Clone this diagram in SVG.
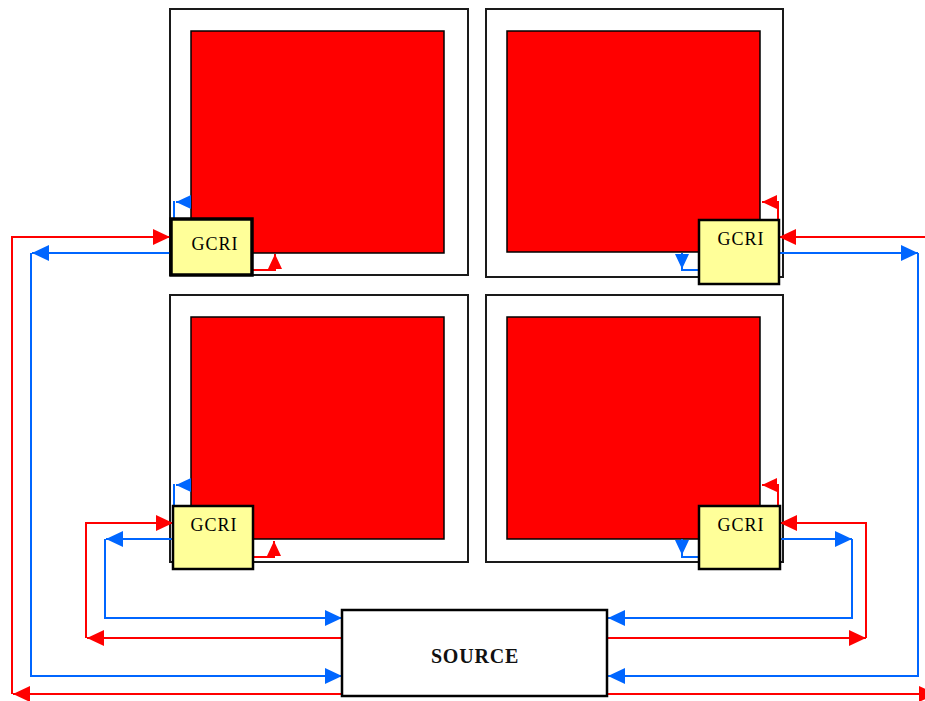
<svg xmlns="http://www.w3.org/2000/svg" width="925" height="701" viewBox="0 0 925 701">
<style>
.frame{fill:#fff;stroke:#1a1a1a;stroke-width:2}
.core{fill:#ff0000;stroke:#000;stroke-width:1.5}
.gcri{fill:#ffff99;stroke:#000;stroke-width:2.5}
.src{fill:#fff;stroke:#000;stroke-width:2.5}
.lbl{font-family:"Liberation Serif","Times New Roman",serif;font-size:18px;letter-spacing:1px;fill:#000;text-anchor:middle}
.slbl{font-family:"Liberation Serif","Times New Roman",serif;font-size:20px;font-weight:bold;letter-spacing:0.8px;fill:#111;text-anchor:middle}
.r{fill:none;stroke:#ff0000;stroke-width:2}
.b{fill:none;stroke:#0066ff;stroke-width:2}
.rb{marker-end:url(#rBig)}
.bb{marker-end:url(#bBig)}
.rs{marker-end:url(#rSm)}
.bs{marker-end:url(#bSm)}
</style>
<defs>
<marker id="rBig" markerUnits="userSpaceOnUse" markerWidth="17" markerHeight="16" refX="17" refY="8" orient="auto"><path d="M0,0 L17,8 L0,16 z" fill="#ff0000"/></marker>
<marker id="bBig" markerUnits="userSpaceOnUse" markerWidth="17" markerHeight="16" refX="17" refY="8" orient="auto"><path d="M0,0 L17,8 L0,16 z" fill="#0066ff"/></marker>
<marker id="rSm" markerUnits="userSpaceOnUse" markerWidth="15" markerHeight="14" refX="15" refY="7" orient="auto"><path d="M0,0 L15,7 L0,14 z" fill="#ff0000"/></marker>
<marker id="bSm" markerUnits="userSpaceOnUse" markerWidth="15" markerHeight="14" refX="15" refY="7" orient="auto"><path d="M0,0 L15,7 L0,14 z" fill="#0066ff"/></marker>
</defs>

<g id="quad-tl"><rect class="frame" x="170" y="9" width="298" height="266"/><rect class="core" x="191" y="31" width="253" height="222"/></g>
<g id="quad-tr"><rect class="frame" x="486" y="9" width="297" height="268"/><rect class="core" x="507" y="31" width="253" height="221"/></g>
<g id="quad-bl"><rect class="frame" x="170" y="295" width="298" height="267"/><rect class="core" x="191" y="317" width="253" height="222"/></g>
<g id="quad-br"><rect class="frame" x="486" y="295" width="297" height="267"/><rect class="core" x="507" y="317" width="253" height="222"/></g>

<g id="connectors">
<path class="r rb" d="M342,694 H13"/>
<path class="r rb" d="M12,694 V237 H170"/>
<path class="b bb" d="M170,253 H32"/>
<path class="b bb" d="M31,253 V676 H342"/>
<path class="r rb" d="M342,638 H87"/>
<path class="r rb" d="M86,638 V523 H173"/>
<path class="b bb" d="M173,539 H106"/>
<path class="b bb" d="M105,539 V618 H342"/>
<path class="r rb" d="M607,638 H866"/>
<path class="r rb" d="M866,638 V523 H780"/>
<path class="b bb" d="M780,539 H852"/>
<path class="b bb" d="M852,539 V618 H608"/>
<path class="r rb" d="M607,694 H936"/>
<path class="r rb" d="M925,237 H779"/>
<path class="b bb" d="M779,253 H918"/>
<path class="b bb" d="M918,253 V676 H608"/>
<path class="b bs" d="M191,202 H176"/>
<path class="b" d="M174,201 V218"/>
<path class="r rs" d="M252,270 H275 V254"/>
<path class="r rs" d="M778,220 V202 H762"/>
<path class="b bs" d="M682,253 V269"/>
<path class="b" d="M682,267 V270 H699"/>
<path class="b bs" d="M191,485 H176"/>
<path class="b" d="M174,484 V506"/>
<path class="r rs" d="M253,557 H274 V541"/>
<path class="r rs" d="M778,506 V485 H762"/>
<path class="b bs" d="M682,539 V555"/>
<path class="b" d="M682,553 V557 H699"/>
</g>

<g id="gcri-tl"><rect class="gcri" x="171" y="219" width="81" height="56" style="stroke-width:3.5"/><text class="lbl" x="215" y="250">GCRI</text></g>
<g id="gcri-tr"><rect class="gcri" x="699" y="220" width="80" height="64"/><text class="lbl" x="741" y="245">GCRI</text></g>
<g id="gcri-bl"><rect class="gcri" x="173" y="506" width="80" height="63"/><text class="lbl" x="214" y="531">GCRI</text></g>
<g id="gcri-br"><rect class="gcri" x="699" y="506" width="81" height="63"/><text class="lbl" x="741" y="531">GCRI</text></g>

<g id="source"><rect class="src" x="342" y="610" width="265" height="86"/><text class="slbl" x="475" y="663">SOURCE</text></g>
</svg>
